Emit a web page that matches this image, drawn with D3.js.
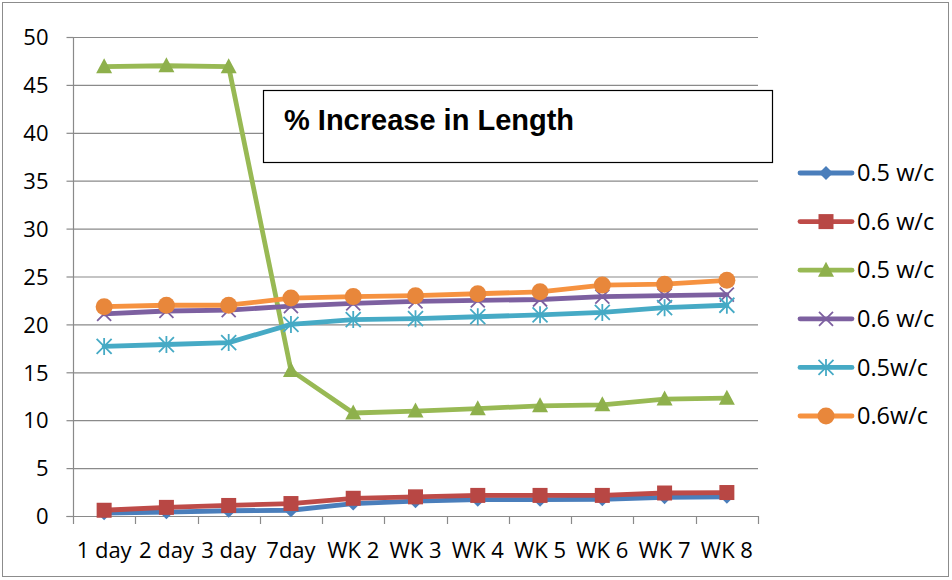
<!DOCTYPE html>
<html><head><meta charset="utf-8">
<script src="https://cdn.jsdelivr.net/npm/d3@7"></script>
<style>body{margin:0;background:#fff}svg{display:block}</style>
</head><body>
<svg id="c" width="952" height="580"></svg>
<script>
const categories = ["1 day","2 day","3 day","7day","WK 2","WK 3","WK 4","WK 5","WK 6","WK 7","WK 8"];
const yTicks = [0,5,10,15,20,25,30,35,40,45,50];
const seriesNames = ["0.5 w/c","0.6 w/c","0.5 w/c","0.6 w/c","0.5w/c","0.6w/c"];
const s1 = [0.3,0.4,0.55,0.6,1.3,1.55,1.7,1.7,1.75,1.95,2.0];
const s2 = [0.6,0.9,1.1,1.3,1.85,2.0,2.15,2.15,2.15,2.4,2.45];
const s3 = [46.9,47.0,46.9,15.2,10.75,10.95,11.2,11.5,11.6,12.2,12.3];
const s4 = [21.1,21.4,21.5,21.9,22.2,22.4,22.5,22.6,22.9,23.0,23.1];
const s5 = [17.7,17.9,18.1,20.0,20.5,20.6,20.8,21.0,21.25,21.75,22.0];
const s6 = [21.85,22.0,22.0,22.75,22.9,23.0,23.2,23.4,24.1,24.2,24.6];
const seriesValues = [s1,s2,s3,s4,s5,s6];
const colors = ["#4A7EBB","#BE4B48","#98B954","#7D60A0","#46AAC5","#F69240"];
const markerColors = ["#4A7EBB","#B84744","#8EB04C","#7D60A0","#46AAC5","#E8873B"];
const markers = ["diamond","square","triangle","x","star","circle"];
const title = "% Increase in Length";

(function(){
const svg = d3.select("#c");
const font = "'Open Sans', 'Noto Sans', sans-serif";

svg.append("rect").attr("x",2.5).attr("y",2.5).attr("width",946).attr("height",574)
  .attr("fill","#fff").attr("stroke","#8c8c8c").attr("stroke-width",1);

const pLeft = 73, pRight = 758, pTop = 37, pBottom = 516;
const x = d3.scaleBand().domain(categories).range([pLeft,pRight]);
const y = d3.scaleLinear().domain([0,50]).range([pBottom,pTop]);

svg.append("g").selectAll("line").data(yTicks.filter(d=>d>0)).join("line")
  .attr("x1",pLeft).attr("x2",pRight).attr("y1",d=>y(d)+0.5).attr("y2",d=>y(d)+0.5)
  .attr("stroke","#8a8a8a").attr("stroke-width",1.2);

const ya = svg.append("g").attr("transform",`translate(${pLeft+0.5},0)`)
  .call(d3.axisLeft(y).tickValues(yTicks).tickSize(7).tickPadding(18));
ya.select(".domain").attr("stroke","#8a8a8a").attr("stroke-width",1.2).attr("d",`M-7,${pBottom+0.5}H0V${pTop}`);
ya.selectAll(".tick line").attr("stroke","#8a8a8a").attr("stroke-width",1.2);
ya.selectAll(".tick text").attr("font-family",font).attr("font-size",22).attr("fill","#000").attr("dy","0.35em");

const xa = svg.append("g").attr("transform",`translate(0,${pBottom+0.5})`)
  .call(d3.axisBottom(x).tickSize(0).tickPadding(26));
xa.select(".domain").attr("stroke","#8a8a8a").attr("stroke-width",1.2).attr("d",`M${pLeft},0H${pRight}`);
xa.selectAll(".tick text").attr("font-family",font).attr("font-size",22).attr("fill","#000").attr("dy","0.71em");
const bounds = categories.map(c=>x(c)).concat([pRight]);
svg.append("g").selectAll("line").data(bounds).join("line")
  .attr("x1",d=>Math.round(d)+0.5).attr("x2",d=>Math.round(d)+0.5).attr("y1",pBottom).attr("y2",pBottom+8)
  .attr("stroke","#8a8a8a").attr("stroke-width",1.2);

const cx = c => x(c) + x.bandwidth()/2;

function drawMarker(g, type, color, px, py) {
  if (type==="diamond") {
    const s=7;
    g.append("path").attr("d",`M${px},${py-s}L${px+s},${py}L${px},${py+s}L${px-s},${py}Z`).attr("fill",color);
  } else if (type==="square") {
    g.append("rect").attr("x",px-7.5).attr("y",py-7.5).attr("width",15).attr("height",15).attr("fill",color);
  } else if (type==="triangle") {
    g.append("path").attr("d",`M${px},${py-8.5}L${px+8},${py+6.5}L${px-8},${py+6.5}Z`).attr("fill",color);
  } else if (type==="x") {
    const s=7;
    g.append("path").attr("d",`M${px-s},${py-s}L${px+s},${py+s}M${px+s},${py-s}L${px-s},${py+s}`)
      .attr("stroke",color).attr("stroke-width",1.8).attr("fill","none");
  } else if (type==="star") {
    const s=7.5;
    g.append("path").attr("d",`M${px-s},${py-s}L${px+s},${py+s}M${px+s},${py-s}L${px-s},${py+s}M${px},${py-s-1}L${px},${py+s+1}`)
      .attr("stroke",color).attr("stroke-width",1.8).attr("fill","none");
  } else if (type==="circle") {
    g.append("circle").attr("cx",px).attr("cy",py).attr("r",8.5).attr("fill",color);
  }
}

const line = d3.line().x((d,i)=>cx(categories[i])).y(d=>y(d));
seriesValues.forEach((vals,k)=>{
  const g = svg.append("g");
  g.append("path").datum(vals).attr("d",line).attr("fill","none")
    .attr("stroke",colors[k]).attr("stroke-width",4.8).attr("stroke-linejoin","round").attr("stroke-linecap","round");
  vals.forEach((v,i)=>drawMarker(g, markers[k], markerColors[k], cx(categories[i]), y(v)));
});

svg.append("rect").attr("x",263.5).attr("y",90.5).attr("width",509).attr("height",72)
  .attr("fill","#fff").attr("stroke","#000").attr("stroke-width",1.2);
svg.append("text").attr("x",284).attr("y",130).text(title)
  .attr("font-family","'Liberation Sans', Arial, sans-serif").attr("font-weight","bold").attr("font-size",29).attr("fill","#000");

const lg = svg.append("g");
seriesNames.forEach((name,k)=>{
  const ly = 173 + k*48.6;
  const g = lg.append("g");
  g.append("line").attr("x1",800).attr("x2",852).attr("y1",ly).attr("y2",ly)
    .attr("stroke",colors[k]).attr("stroke-width",4.8).attr("stroke-linecap","round");
  drawMarker(g, markers[k], markerColors[k], 826, ly);
  g.append("text").attr("x",857).attr("y",ly).attr("dy","0.35em").text(name)
    .attr("font-family",font).attr("font-size",23.5).attr("fill","#000");
});
})();
</script>
</body></html>
